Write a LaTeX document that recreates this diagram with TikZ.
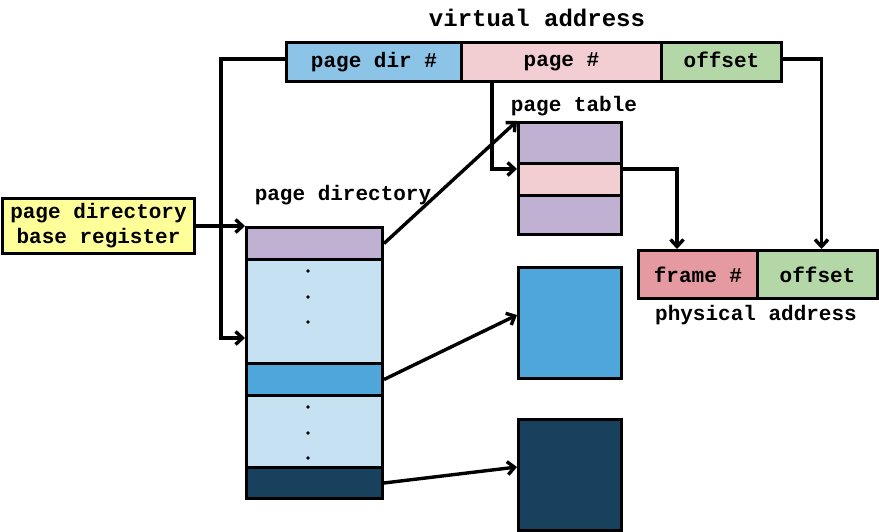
\documentclass[tikz,border=0pt]{standalone}
\usepackage{fontspec}
\usetikzlibrary{arrows.meta}
\newfontfamily\monofont{Liberation Mono}

\definecolor{dirblue}{HTML}{8BC4E6}
\definecolor{pagepink}{HTML}{F2CED3}
\definecolor{offgreen}{HTML}{B4D7A8}
\definecolor{ptpurple}{HTML}{C0B1D3}
\definecolor{pdlight}{HTML}{C5E1F2}
\definecolor{pgblue}{HTML}{4EA6DA}
\definecolor{pgdark}{HTML}{17415C}
\definecolor{framered}{HTML}{E59AA1}
\definecolor{regyellow}{HTML}{FFFF99}

\tikzset{
  cell/.style={draw, line width=3pt, anchor=north west, inner sep=0pt,
    font=\monofont\bfseries\fontsize{21}{24}\selectfont},
  caption/.style={font=\monofont\bfseries\fontsize{21}{24}\selectfont},
  conn/.style={draw, line width=3.4pt, -{Straight Barb[length=7pt,width=13pt]}}
}

\begin{document}
\begin{tikzpicture}[x=1pt,y=-1pt]
\useasboundingbox (0,0) rectangle (879,532);

% Drawing virtual address
\node[caption, font=\monofont\bfseries\fontsize{24}{28}\selectfont] (vaLabel) at (537,18) {virtual address};
\node[cell, fill=dirblue, minimum width=175pt, minimum height=39pt] (vaDir) at (285,41) {page dir \#};
\node[cell, fill=pagepink, minimum width=200pt, minimum height=39pt] (vaPage) at (460,41) {page \#};
\node[cell, fill=offgreen, minimum width=120pt, minimum height=39pt, text depth=4pt] (vaOff) at (660,41) {offset};

% Drawing page table
\node[caption] (ptLabel) at (574,106) {page table};
\node[cell, fill=ptpurple, minimum width=103pt, minimum height=41pt] (pt1) at (517,121) {};
\node[cell, fill=pagepink, minimum width=103pt, minimum height=32pt] (pt2) at (517,162) {};
\node[cell, fill=ptpurple, minimum width=103pt, minimum height=39pt] (pt3) at (517,194) {};

% Drawing physical address
\node[cell, fill=framered, minimum width=119pt, minimum height=48pt] (paFrame) at (637,249) {frame \#};
\node[cell, fill=offgreen, minimum width=120pt, minimum height=48pt] (paOff) at (756,249) {offset};
\node[caption] (paLabel) at (756,315) {physical address};

% Drawing page directory base register
\node[cell, fill=regyellow, minimum width=192pt, minimum height=55pt, align=center,
  font=\monofont\bfseries\fontsize{21}{25}\selectfont] (pdbr) at (1,197) {page directory\\base register};

% Drawing page directory
\node[caption] (pdLabel) at (343,195) {page directory};
\node[cell, fill=ptpurple, minimum width=136pt, minimum height=32pt] (pd1) at (245,226) {};
\node[cell, fill=pdlight, minimum width=136pt, minimum height=104pt] (pd2) at (245,258) {};
\node[cell, fill=pgblue, minimum width=136pt, minimum height=32pt] (pd3) at (245,362) {};
\node[cell, fill=pdlight, minimum width=136pt, minimum height=72pt] (pd4) at (245,394) {};
\node[cell, fill=pgdark, minimum width=136pt, minimum height=31pt] (pd5) at (245,466) {};
\foreach \y in {271,297,322,407,433,458}
  \fill (308,\y) circle (1.8pt);

% Drawing pages
\node[cell, fill=pgblue, minimum width=103pt, minimum height=111pt] (pg1) at (517,266) {};
\node[cell, fill=pgdark, minimum width=103pt, minimum height=111pt] (pg2) at (517,418) {};

% Drawing connectors
\coordinate (dirIn) at (245,338);
\path[conn] ([yshift=3pt]vaDir.west) -- ++(-64,0) |- (dirIn);
\path[conn] (492,80) |- ([yshift=-7pt]pt2.north west);
\path[conn] ([yshift=-7pt]pt2.north east) -| ([xshift=40pt]paFrame.north west);
\path[conn] ([yshift=3pt]vaOff.east) -| ([xshift=4pt]paOff.north);
\path[conn] (pdbr.east) -- (pdbr.east -| pd1.west);
\path[conn] (pd1.east) -- (pt1.north west);
\path[conn] (pd3.east) -- ([yshift=8pt]pg1.west);
\path[conn] (pd5.east) -- ([yshift=8pt]pg2.west);
\end{tikzpicture}
\end{document}
